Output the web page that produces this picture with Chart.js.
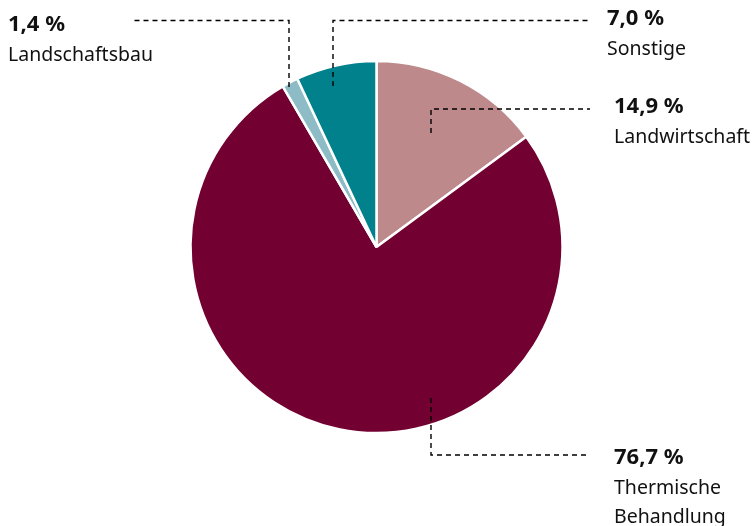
<!DOCTYPE html>
<html lang="de">
<head>
<meta charset="utf-8">
<title>Anteile</title>
<script src="https://cdn.jsdelivr.net/npm/chart.js@4/dist/chart.umd.min.js"></script>
<style>
  html, body { margin: 0; padding: 0; background: #ffffff; }
  #wrap { position: relative; width: 755px; height: 526px; }
</style>
</head>
<body>
<div id="wrap"><canvas id="chart" width="755" height="526"></canvas></div>
<script>
// Shares in percent, clockwise from 12 o'clock
const categories = ['Landwirtschaft', 'Thermische Behandlung', 'Landschaftsbau', 'Sonstige'];
const shares = [14.9, 76.7, 1.4, 7.0];
const sliceColors = ['#bd898b', '#720030', '#8dbcc6', '#00818c'];

// Callout layout: label block anchor and leader path for each slice
const callouts = [
  { lines: ['Landwirtschaft'], textX: 614, valueY: 113, path: [[431, 133], [431, 109], [590, 109]] },
  { lines: ['Thermische', 'Behandlung'], textX: 614, valueY: 464, path: [[431, 398], [431, 455], [590, 455]] },
  { lines: ['Landschaftsbau'], textX: 8, valueY: 31, path: [[289, 87], [289, 20.5], [131, 20.5]] },
  { lines: ['Sonstige'], textX: 607, valueY: 25, path: [[333, 86], [333, 20.5], [590, 20.5]] }
];

const fmt = v => v.toFixed(1).replace('.', ',') + ' %';

const calloutPlugin = {
  id: 'callouts',
  afterDatasetsDraw(chart) {
    const ctx = chart.ctx;
    const values = chart.data.datasets[0].data;
    ctx.save();
    // leader lines
    ctx.strokeStyle = '#000000';
    ctx.lineWidth = 1.4;
    ctx.setLineDash([5, 4]);
    callouts.forEach(c => {
      ctx.beginPath();
      c.path.forEach((p, i) => i ? ctx.lineTo(p[0], p[1]) : ctx.moveTo(p[0], p[1]));
      ctx.stroke();
    });
    ctx.setLineDash([]);
    // labels
    ctx.fillStyle = '#111111';
    ctx.textAlign = 'left';
    ctx.textBaseline = 'alphabetic';
    callouts.forEach((c, i) => {
      ctx.font = 'bold 22px "Noto Sans"';
      ctx.fillText(fmt(values[i]), c.textX, c.valueY);
      ctx.font = '19.5px "Noto Sans"';
      c.lines.forEach((t, j) => {
        ctx.fillText(t, c.textX, c.valueY + 30 + j * 29);
      });
    });
    ctx.restore();
  }
};

new Chart(document.getElementById('chart'), {
  type: 'pie',
  data: {
    labels: categories,
    datasets: [{
      data: shares,
      backgroundColor: sliceColors,
      borderColor: '#ffffff',
      borderWidth: 2.5,
      hoverOffset: 0,
      radius: 186
    }]
  },
  options: {
    responsive: false,
    animation: false,
    layout: { padding: { left: 0, right: 2, top: 0, bottom: 32 } },
    plugins: {
      legend: { display: false },
      tooltip: { enabled: false }
    }
  },
  plugins: [calloutPlugin]
});
</script>
</body>
</html>
